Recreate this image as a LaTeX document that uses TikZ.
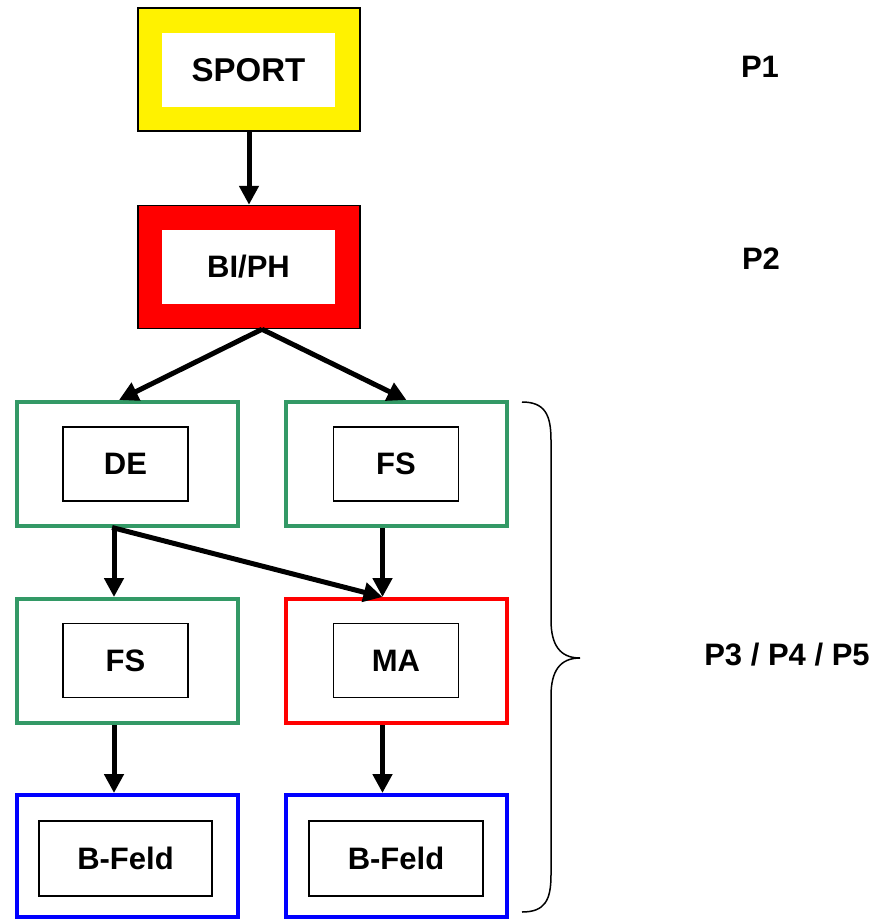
\documentclass[tikz,border=0pt]{standalone}
\usepackage{fontspec}
\setmainfont{Liberation Sans}
\usetikzlibrary{arrows.meta}
\definecolor{pgreen}{RGB}{51,153,102}
\tikzset{
  lbl/.style={inner sep=0pt, font=\bfseries\fontsize{31}{36}\selectfont},
  thickframe/.style={draw=black, line width=1.5pt, minimum width=222pt, minimum height=123pt, inner sep=0pt},
  whitein/.style={fill=white, draw=none, minimum width=173pt, minimum height=74pt, inner sep=0pt, font=\bfseries\fontsize{31}{36}\selectfont},
  colframe/.style={draw=#1, line width=4pt, fill=white, minimum width=221pt, minimum height=124pt, inner sep=0pt},
  innerbox/.style={draw=black, line width=1.5pt, fill=white, minimum width=125pt, minimum height=74pt, inner sep=0pt, font=\bfseries\fontsize{31}{36}\selectfont},
  arr/.style={line width=5pt, -{Triangle[length=19pt,width=19pt]}},
  brace/.style={line width=1.5pt}
}
\begin{document}
\begin{tikzpicture}[x=1pt,y=-1pt]
\useasboundingbox (0,0) rectangle (881,919);
% top boxes
\node[thickframe, fill=yellow] (sportF) at (249,69.5) {};
\node[whitein, font=\bfseries\fontsize{33}{38}\selectfont] (sport) at (248.5,70) {SPORT};
\node[thickframe, fill=red] (bipF) at (249,267) {};
\node[whitein] (bip) at (248.5,266.5) {BI/PH};
% row 1
\node[colframe=pgreen] (deF) at (127,464) {};
\node[innerbox] (de) at (125.5,464) {DE};
\node[colframe=pgreen] (fsaF) at (396.5,464) {};
\node[innerbox] (fsa) at (396,464) {FS};
% row 2
\node[colframe=pgreen] (fsbF) at (127,661) {};
\node[innerbox] (fsb) at (125.5,660.5) {FS};
\node[colframe=red] (maF) at (396.5,661) {};
\node[innerbox] (ma) at (396,660.5) {MA};
% row 3
\node[colframe=blue, minimum height=122pt] (bfaF) at (127,856) {};
\node[innerbox, minimum width=173pt, minimum height=75pt] (bfa) at (125.5,858.5) {B-Feld};
\node[colframe=blue, minimum height=122pt] (bfbF) at (396.5,856) {};
\node[innerbox, minimum width=174pt, minimum height=75pt] (bfb) at (396,858.5) {B-Feld};
% arrows
\draw[arr] (sportF.south) -- (bipF.north);
\draw[arr] ([xshift=13pt]bipF.south) -- ([xshift=-8pt]deF.north);
\draw[arr] ([xshift=13pt]bipF.south) -- ([xshift=10pt]fsaF.north);
\draw[arr] ([xshift=-13pt]deF.south) -- ([xshift=-13pt]fsbF.north);
\draw[arr, shorten <=-2pt] ([xshift=-13pt]deF.south) -- ([xshift=-14pt]maF.north);
\draw[arr] ([xshift=-14pt]fsaF.south) -- ([xshift=-14pt]maF.north);
\draw[arr] ([xshift=-13pt]fsbF.south) -- ([xshift=-13pt]bfaF.north);
\draw[arr] ([xshift=-14pt]maF.south) -- ([xshift=-14pt]bfbF.north);
% brace
\draw[brace] (522,402) .. controls (545,402) and (551,415) .. (551,440) -- (551,620)
  .. controls (551,645) and (560,658) .. (580,658)
  .. controls (560,658) and (551,671) .. (551,696) -- (551,875)
  .. controls (551,900) and (545,912) .. (522,912);
% labels
\node[lbl] (p1) at (760,67) {P1};
\node[lbl] (p2) at (761,259) {P2};
\node[lbl] (p345) at (787,655) {P3 / P4 / P5};
\end{tikzpicture}
\end{document}
